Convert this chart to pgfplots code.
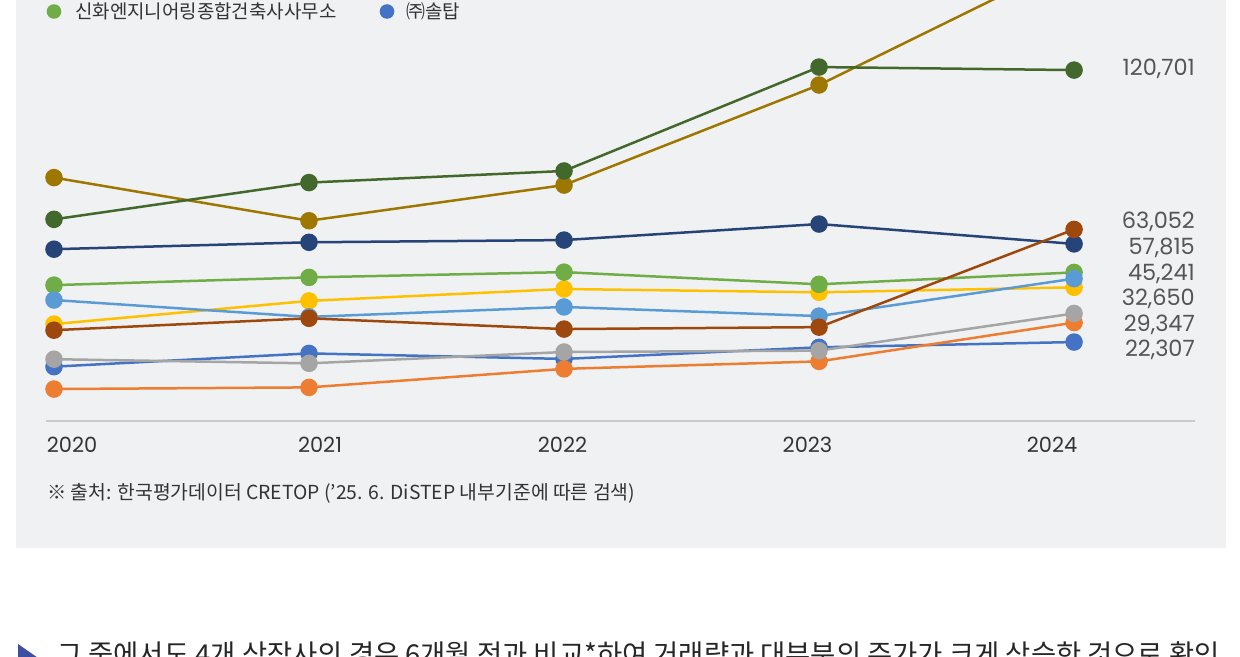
\documentclass[border=0pt]{standalone}
\usepackage{fontspec}
\setmainfont{Poppins}
\newfontfamily\kr{Noto Sans CJK KR}
\usepackage{pgfplots}
\pgfplotsset{compat=1.18}
\definecolor{panel}{HTML}{F0F1F3}
\definecolor{axgray}{HTML}{C9CACC}
\definecolor{txt}{HTML}{333333}
\definecolor{labgray}{HTML}{555555}
\definecolor{tri}{HTML}{3D4FA0}
\definecolor{cblue}{HTML}{4472C4}
\definecolor{corange}{HTML}{ED7D31}
\definecolor{cgray}{HTML}{A5A5A5}
\definecolor{cyellow}{HTML}{FFC000}
\definecolor{clblue}{HTML}{5B9BD5}
\definecolor{cgreen}{HTML}{70AD47}
\definecolor{cnavy}{HTML}{264478}
\definecolor{cbrown}{HTML}{9E480E}
\definecolor{cgold}{HTML}{9E7700}
\definecolor{cdgreen}{HTML}{43682B}
\begin{document}
\begin{tikzpicture}
\fill[white] (0bp,0bp) rectangle (1240bp,-657bp);
\fill[panel] (16bp,0bp) rectangle (1226bp,-548bp);
\begin{axis}[
  at={(16bp,0bp)}, anchor=north west,
  width=1210bp, height=548bp, scale only axis,
  xmin=2019.851, xmax=2024.596, ymin=-52.21, ymax=146.06,
  hide axis, clip=true,
  every axis plot/.append style={line width=2.5bp, mark=*, mark size=7.5bp, mark options={solid}},
]
\draw[color=axgray, line width=2bp] (axis cs:2019.969,-6.26) -- (axis cs:2024.475,-6.26);
% values in thousands
\addplot[color=cblue]   coordinates {(2020,13.4)(2021,18.2)(2022,16.2)(2023,20.4)(2024,22.307)};
\addplot[color=corange] coordinates {(2020,5.3)(2021,5.9)(2022,12.6)(2023,15.3)(2024,29.347)};
\addplot[color=cgray]   coordinates {(2020,16.1)(2021,14.6)(2022,18.7)(2023,19.2)(2024,32.650)};
\addplot[color=cyellow] coordinates {(2020,28.8)(2021,37.2)(2022,41.5)(2023,40.3)(2024,42.1)};
\addplot[color=cgreen]  coordinates {(2020,42.9)(2021,45.7)(2022,47.6)(2023,43.2)(2024,47.5)};
\addplot[color=clblue]  coordinates {(2020,37.5)(2021,31.4)(2022,35.0)(2023,31.7)(2024,45.241)};
\addplot[color=cnavy]   coordinates {(2020,55.9)(2021,58.4)(2022,59.2)(2023,65.0)(2024,57.815)};
\addplot[color=cbrown]  coordinates {(2020,26.6)(2021,30.9)(2022,27.0)(2023,27.7)(2024,63.052)};
\addplot[color=cgold]   coordinates {(2020,81.8)(2021,66.2)(2022,79.1)(2023,115.3)(2024,160.6)};
\addplot[color=cdgreen] coordinates {(2020,66.7)(2021,80.0)(2022,84.2)(2023,121.8)(2024,120.701)};
\end{axis}
% legend (top, partly cut)
\fill[cgreen] (54bp,-11.5bp) circle (7.3bp);
\node[anchor=base west, inner sep=0pt, text=txt, font=\kr\fontsize{19}{19}\selectfont] at (75bp,-18.5bp) {신화엔지니어링종합건축사사무소};
\fill[cblue] (387bp,-11.5bp) circle (7.3bp);
\node[anchor=base west, inner sep=0pt, text=txt, font=\kr\fontsize{19}{19}\selectfont] at (406bp,-18.5bp) {㈜솔탑};
% end labels
\begin{scope}[every node/.style={anchor=base east, inner sep=0pt, text=labgray, font=\fontsize{22.5}{22.5}\selectfont}]
\node at (1195bp,-75bp) {120,701};
\node at (1195bp,-228.5bp) {63,052};
\node at (1195bp,-254bp) {57,815};
\node at (1195bp,-280bp) {45,241};
\node at (1195bp,-305.5bp) {32,650};
\node at (1195bp,-331bp) {29,347};
\node at (1195bp,-356.5bp) {22,307};
\end{scope}
% x labels
\begin{scope}[every node/.style={anchor=base, inner sep=0pt, text=txt, font=\fontsize{21}{21}\selectfont}]
\node at (72bp,-452bp) {2020};
\node at (320bp,-452bp) {2021};
\node at (562.5bp,-452bp) {2022};
\node at (807.5bp,-452bp) {2023};
\node at (1052bp,-452bp) {2024};
\end{scope}
% source
\node[anchor=base west, inner sep=0pt, text=txt, font=\kr\fontsize{19.4}{19.4}\selectfont] at (47bp,-499bp) {※ 출처: 한국평가데이터 CRETOP (’25. 6. DiSTEP 내부기준에 따른 검색)};
% bottom text (cut off, as in the reference)
\fill[tri] (18bp,-644bp) -- (41bp,-660bp) -- (18bp,-676bp) -- cycle;
\node[anchor=base west, inner sep=0pt, text=black!85, font=\kr\fontsize{27.5}{27.5}\selectfont] at (57bp,-664bp) {그 중에서도 4개 상장사의 경우 6개월 전과 비교*하여 거래량과 대부분의 주가가 크게 상승한 것으로 확인};
\pgfresetboundingbox
\useasboundingbox (0bp,0bp) rectangle (1240bp,-657bp);
\end{tikzpicture}
\end{document}
